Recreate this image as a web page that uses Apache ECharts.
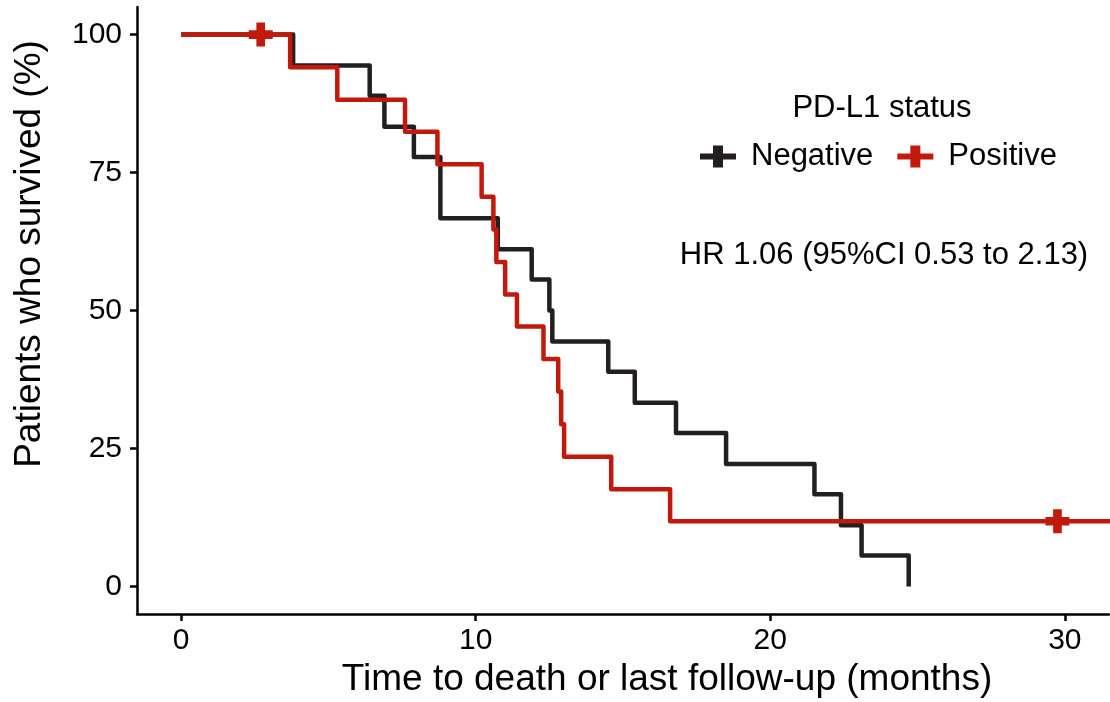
<!DOCTYPE html>
<html>
<head>
<meta charset="utf-8">
<script src="https://cdn.jsdelivr.net/npm/echarts@6/dist/echarts.min.js"></script>
<style>
  html, body { margin: 0; padding: 0; background: #fff; }
  #chart { width: 1110px; height: 702px; }
</style>
</head>
<body>
<div id="chart"></div>
<script>
// Kaplan-Meier steps (months, % surviving)
var negTime = [0, 3.8, 6.4, 6.9, 7.9, 8.8, 10.75, 11.9, 12.5, 12.6, 14.5, 15.4, 16.8, 18.5, 21.5, 22.4, 23.1, 24.7];
var negSurv = [100, 94.4, 88.9, 83.3, 77.8, 66.7, 61.1, 55.6, 50, 44.4, 38.9, 33.3, 27.8, 22.2, 16.7, 11.1, 5.6, 0];

var posTime = [0, 3.7, 5.3, 7.6, 8.7, 10.2, 10.6, 10.7, 11.0, 11.4, 12.3, 12.8, 12.9, 13.0, 14.6, 16.6, 33];
var posSurv = [100, 94.1, 88.2, 82.4, 76.5, 70.6, 64.7, 58.8, 52.9, 47.1, 41.2, 35.3, 29.4, 23.5, 17.6, 11.8, 11.8];

// censored observations
var posCensTime = [2.7, 29.75];
var posCensSurv = [100, 11.8];

var xTicks = [0, 10, 20, 30];
var yTicks = [0, 25, 50, 75, 100];

var groups = ['Negative', 'Positive'];
var colNeg = '#231f20';
var colPos = '#c11a0c';

var FONT = '"Liberation Sans", Arial, Helvetica, sans-serif';

var plusPath = 'path://M32,0H68V32H100V68H68V100H32V68H0V32H32Z';
// line with a cross in the middle, for the legend
var legendPath = 'path://M0,8H13V0H23V8H36V14H23V22H13V14H0Z';

function pairs(xs, ys) {
  return xs.map(function (x, i) { return [x, ys[i]]; });
}

var chart = echarts.init(document.getElementById('chart'), null, { renderer: 'canvas' });

var option = {
  backgroundColor: '#ffffff',
  animation: false,
  textStyle: { fontFamily: FONT },
  grid: { left: 137, right: 1, top: 7, bottom: 88, containLabel: false },
  xAxis: {
    type: 'value',
    min: -1.5,
    max: 31.5,
    splitLine: { show: false },
    axisLine: { onZero: false, lineStyle: { color: '#000', width: 2.5 } },
    axisTick: { show: true, length: 7, customValues: xTicks, lineStyle: { color: '#000', width: 2.5 } },
    axisLabel: { customValues: xTicks, color: '#000', fontSize: 30, margin: 12, fontFamily: FONT }
  },
  yAxis: {
    type: 'value',
    min: -5,
    max: 105,
    splitLine: { show: false },
    axisLine: { onZero: false, lineStyle: { color: '#000', width: 2.5 } },
    axisTick: { show: true, length: 7, customValues: yTicks, lineStyle: { color: '#000', width: 2.5 } },
    axisLabel: { customValues: yTicks, color: '#000', fontSize: 30, margin: 15, fontFamily: FONT }
  },
  legend: {
    data: [
      { name: groups[0], icon: legendPath },
      { name: groups[1], icon: legendPath }
    ],
    left: 695,
    top: 136,
    itemWidth: 36,
    itemHeight: 22,
    itemGap: 24,
    textStyle: { fontSize: 31, color: '#000', fontFamily: FONT, padding: [0, 0, 0, 10] },
    selectedMode: false
  },
  graphic: [
    {
      type: 'text', x: 882, y: 108,
      style: { text: 'PD-L1 status', fill: '#000', font: '31px ' + FONT, textAlign: 'center', textVerticalAlign: 'middle' }
    },
    {
      type: 'text', x: 884, y: 255,
      style: { text: 'HR 1.06 (95%CI 0.53 to 2.13)', fill: '#000', font: '31px ' + FONT, textAlign: 'center', textVerticalAlign: 'middle' }
    },
    {
      type: 'text', x: 667, y: 680,
      style: { text: 'Time to death or last follow-up (months)', fill: '#000', font: '37px ' + FONT, textAlign: 'center', textVerticalAlign: 'middle' }
    },
    {
      type: 'text', x: 30, y: 254, rotation: Math.PI / 2,
      style: { text: 'Patients who survived (%)', fill: '#000', font: '37px ' + FONT, textAlign: 'center', textVerticalAlign: 'middle' }
    }
  ],
  series: [
    {
      name: groups[0],
      type: 'line',
      step: 'end',
      data: pairs(negTime, negSurv),
      symbol: 'none',
      color: colNeg,
      lineStyle: { color: colNeg, width: 4.5, join: 'round' },
      z: 2
    },
    {
      name: groups[1],
      type: 'line',
      step: 'end',
      data: pairs(posTime, posSurv),
      symbol: 'none',
      color: colPos,
      lineStyle: { color: colPos, width: 4.5, join: 'round' },
      z: 3
    },
    {
      name: 'Positive censored',
      type: 'scatter',
      data: pairs(posCensTime, posCensSurv),
      symbol: plusPath,
      symbolSize: 24,
      itemStyle: { color: colPos, opacity: 1 },
      z: 4
    }
  ]
};

chart.setOption(option);
</script>
</body>
</html>
